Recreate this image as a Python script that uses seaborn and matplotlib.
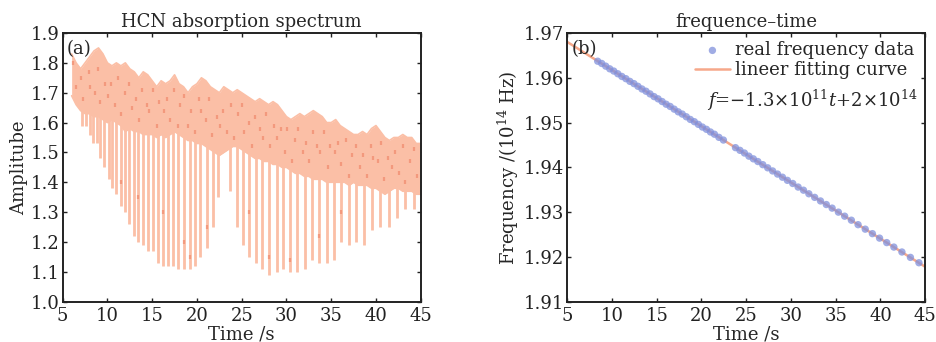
import numpy as np
import matplotlib
matplotlib.use("Agg")
import matplotlib.pyplot as plt
import seaborn as sns

sns.set_theme(style="ticks")
plt.rcParams['font.family'] = ['DejaVu Serif']
plt.rcParams['mathtext.fontset'] = 'dejavuserif'

# ---- (a) HCN absorption spectrum ----
# envelope of the fast oscillating signal
band_t = [6.0, 6.5, 7.0, 7.5, 8.0, 8.5, 9.0, 9.5, 10.0, 10.5, 11.0, 11.5, 12.0, 12.5,
          13.0, 13.5, 14.0, 14.5, 15.0, 15.5, 16.0, 16.5, 17.0, 17.5, 18.0, 18.5, 19.0,
          19.5, 20.0, 20.5, 21.0, 21.5, 22.0, 22.5, 23.0, 23.5, 24.0, 24.5, 25.0, 25.5,
          26.0, 26.5, 27.0, 27.5, 28.0, 28.5, 29.0, 29.5, 30.0, 30.5, 31.0, 31.5, 32.0,
          32.5, 33.0, 33.5, 34.0, 34.5, 35.0, 35.5, 36.0, 36.5, 37.0, 37.5, 38.0, 38.5,
          39.0, 39.5, 40.0, 40.5, 41.0, 41.5, 42.0, 42.5, 43.0, 43.5, 44.0, 44.5, 45.0]
band_upper = [1.83, 1.80, 1.78, 1.80, 1.82, 1.84, 1.85, 1.83, 1.80, 1.79, 1.80, 1.79, 1.80,
              1.78, 1.77, 1.75, 1.77, 1.76, 1.74, 1.72, 1.74, 1.73, 1.74, 1.76, 1.73, 1.72,
              1.70, 1.72, 1.73, 1.75, 1.74, 1.72, 1.71, 1.70, 1.72, 1.71, 1.70, 1.71, 1.70,
              1.69, 1.68, 1.67, 1.68, 1.67, 1.66, 1.67, 1.66, 1.64, 1.62, 1.61, 1.62, 1.63,
              1.62, 1.63, 1.64, 1.63, 1.62, 1.60, 1.60, 1.61, 1.59, 1.58, 1.57, 1.56, 1.56,
              1.57, 1.56, 1.58, 1.59, 1.57, 1.55, 1.54, 1.55, 1.55, 1.56, 1.55, 1.55, 1.53,
              1.53]
band_lower = [1.69, 1.66, 1.64, 1.63, 1.63, 1.62, 1.62, 1.61, 1.60, 1.61, 1.60, 1.59, 1.57,
              1.58, 1.57, 1.57, 1.56, 1.56, 1.56, 1.55, 1.56, 1.55, 1.56, 1.57, 1.56, 1.55,
              1.54, 1.54, 1.53, 1.53, 1.52, 1.51, 1.50, 1.49, 1.50, 1.51, 1.52, 1.52, 1.51,
              1.50, 1.49, 1.48, 1.48, 1.47, 1.47, 1.46, 1.46, 1.45, 1.45, 1.44, 1.43, 1.43,
              1.42, 1.42, 1.41, 1.41, 1.41, 1.40, 1.40, 1.40, 1.40, 1.40, 1.39, 1.40, 1.39,
              1.39, 1.39, 1.38, 1.38, 1.37, 1.36, 1.37, 1.38, 1.38, 1.37, 1.37, 1.37, 1.36,
              1.36]

# absorption lines: time and bottom of each dip
dip_t = [7.2, 7.6, 8.0, 8.4, 8.8, 9.15, 9.6, 10.15, 10.55, 11.0, 11.5, 12.0, 12.45, 12.95,
         13.45, 14.0, 14.5, 15.1, 15.65, 16.2, 16.8, 17.35, 17.9, 18.55, 19.2, 19.8, 20.35,
         21.1, 21.75, 22.4, 23.7, 24.45, 25.15, 25.85, 26.6, 27.25, 28.1, 28.9, 29.6, 30.4,
         31.2, 32.05, 32.8, 33.6, 34.5, 35.3, 36.1, 37.0, 37.8, 38.7, 39.6, 40.5, 41.45,
         42.4, 43.3, 44.25]
dip_depth = [1.59, 1.59, 1.56, 1.53, 1.53, 1.48, 1.45, 1.41, 1.38, 1.36, 1.32, 1.30, 1.26,
             1.22, 1.20, 1.19, 1.17, 1.17, 1.13, 1.12, 1.12, 1.12, 1.11, 1.11, 1.11, 1.12,
             1.15, 1.18, 1.25, 1.35, 1.37, 1.25, 1.19, 1.15, 1.13, 1.11, 1.09, 1.10, 1.11,
             1.10, 1.10, 1.11, 1.14, 1.13, 1.13, 1.14, 1.20, 1.19, 1.20, 1.19, 1.24, 1.25,
             1.25, 1.28, 1.31, 1.31]

# darker sample marks visible inside the trace
speck_t = [6.2, 6.5, 7.0, 7.3, 7.9, 8.1, 8.6, 9.0, 9.2, 9.7, 10.1, 10.4, 10.9, 11.2, 11.5,
           12.0, 12.4, 12.7, 13.2, 13.5, 13.9, 14.4, 14.6, 15.1, 15.5, 15.8, 16.3, 16.7,
           17.0, 17.4, 17.9, 18.1, 18.6, 19.0, 19.3, 19.8, 20.2, 20.5, 21.0, 21.4, 21.7,
           22.2, 22.6, 22.9, 23.4, 23.8, 24.1, 24.6, 25.0, 25.3, 25.8, 26.2, 26.5, 27.0,
           27.4, 27.7, 28.2, 28.6, 28.9, 29.4, 29.8, 30.1, 30.6, 31.0, 31.3, 31.8, 32.2,
           32.5, 33.0, 33.4, 33.7, 34.2, 34.6, 34.9, 35.4, 35.8, 36.1, 36.6, 37.0, 37.3,
           37.8, 38.2, 38.5, 39.0, 39.4, 39.7, 40.2, 40.6, 40.9, 41.4, 41.8, 42.1, 42.6,
           43.0, 43.3, 43.8, 44.2, 44.6,
           11.5, 13.45, 16.2, 18.55, 19.2, 21.1, 25.85, 28.1, 30.4, 33.6, 36.1]
speck_a = [1.80, 1.72, 1.75, 1.68, 1.77, 1.72, 1.70, 1.78, 1.67, 1.73, 1.69, 1.73, 1.66,
           1.75, 1.63, 1.70, 1.73, 1.65, 1.68, 1.61, 1.71, 1.66, 1.64, 1.71, 1.59, 1.67,
           1.64, 1.68, 1.61, 1.71, 1.59, 1.66, 1.69, 1.59, 1.64, 1.57, 1.68, 1.64, 1.61,
           1.68, 1.56, 1.62, 1.59, 1.64, 1.57, 1.66, 1.55, 1.63, 1.66, 1.57, 1.60, 1.52,
           1.62, 1.58, 1.55, 1.63, 1.52, 1.59, 1.55, 1.58, 1.50, 1.58, 1.47, 1.54, 1.58,
           1.50, 1.53, 1.47, 1.57, 1.52, 1.50, 1.57, 1.45, 1.52, 1.50, 1.53, 1.46, 1.54,
           1.42, 1.49, 1.52, 1.45, 1.49, 1.42, 1.52, 1.48, 1.47, 1.53, 1.41, 1.48, 1.45,
           1.50, 1.43, 1.52, 1.40, 1.47, 1.51, 1.42,
           1.40, 1.35, 1.30, 1.20, 1.15, 1.25, 1.30, 1.15, 1.14, 1.22, 1.30]

# ---- (b) frequency vs time ----
freq_t = [8.4, 8.85, 9.3, 9.75, 10.2, 10.65, 11.1, 11.55, 12.0, 12.45, 12.9, 13.35, 13.8,
          14.25, 14.7, 15.15, 15.6, 16.05, 16.5, 16.95, 17.4, 17.85, 18.3, 18.75, 19.2,
          19.65, 20.1, 20.55, 21.0, 21.45, 21.95, 22.45, 23.8, 24.3, 24.8, 25.3, 25.8, 26.3,
          26.85, 27.4, 27.95, 28.5, 29.05, 29.6, 30.2, 30.8, 31.4, 32.0, 32.65, 33.3, 33.95,
          34.6, 35.3, 36.0, 36.75, 37.5, 38.3, 39.1, 39.9, 40.7, 41.5, 42.4, 43.35, 44.3]
freq_val = [1.9637, 1.9632, 1.9626, 1.9620, 1.9615, 1.9609, 1.9603, 1.9598, 1.9592, 1.9587,
            1.9581, 1.9575, 1.9570, 1.9564, 1.9558, 1.9553, 1.9547, 1.9541, 1.9536, 1.9530,
            1.9524, 1.9519, 1.9513, 1.9507, 1.9502, 1.9496, 1.9490, 1.9485, 1.9479, 1.9474,
            1.9467, 1.9461, 1.9444, 1.9438, 1.9432, 1.9425, 1.9419, 1.9413, 1.9406, 1.9399,
            1.9392, 1.9385, 1.9378, 1.9371, 1.9364, 1.9356, 1.9349, 1.9341, 1.9333, 1.9325,
            1.9317, 1.9309, 1.9300, 1.9291, 1.9282, 1.9272, 1.9262, 1.9252, 1.9242, 1.9232,
            1.9222, 1.9211, 1.9199, 1.9187]
fit_t = [5.0, 45.0]
fit_val = [1.9680, 1.9178]

SIGNAL = '#fbbfa6'
SPECK = '#f08a6c'
FIT = '#f6a88a'
POINT = '#8090dc'

fig = plt.figure(figsize=(9.37, 3.42), dpi=100)
ax1 = fig.add_axes([0.0669, 0.1178, 0.3821, 0.7857])
ax2 = fig.add_axes([0.6054, 0.1178, 0.3820, 0.7857])

# panel a
ax1.fill_between(band_t, band_lower, band_upper, color=SIGNAL, lw=0)
sns.lineplot(x=band_t, y=band_upper, ax=ax1, color=SIGNAL, lw=1.2)
sns.lineplot(x=band_t, y=band_lower, ax=ax1, color=SIGNAL, lw=1.2)
dip_top = np.interp(dip_t, band_t, band_lower) + 0.03
ax1.vlines(dip_t, dip_depth, dip_top, color=SIGNAL, lw=2.0)
sns.scatterplot(x=speck_t, y=speck_a, ax=ax1, marker='|', s=12, linewidth=1.6,
                color=SPECK, alpha=0.7, zorder=3)
ax1.set_xlim(5, 45)
ax1.set_ylim(1.0, 1.9)
ax1.set_xticks(range(5, 46, 5))
ax1.set_yticks(np.round(np.arange(1.0, 1.91, 0.1), 1))
ax1.set_title('HCN absorption spectrum', fontsize=13, pad=4)
ax1.set_xlabel('Time /s', fontsize=13, labelpad=0)
ax1.set_ylabel('Amplitube', fontsize=13, labelpad=2)
ax1.text(0.012, 0.975, '(a)', transform=ax1.transAxes, fontsize=13, va='top', ha='left')

# panel b
sns.lineplot(x=fit_t, y=fit_val, ax=ax2, color=FIT, lw=1.8, label='lineer fitting curve', zorder=2)
sns.scatterplot(x=freq_t, y=freq_val, ax=ax2, color=POINT, s=28, alpha=0.75,
                edgecolor='none', label='real frequency data', zorder=3)
ax2.set_xlim(5, 45)
ax2.set_ylim(1.91, 1.97)
ax2.set_xticks(range(5, 46, 5))
ax2.set_yticks(np.round(np.arange(1.91, 1.971, 0.01), 2))
ax2.set_title('frequence\u2013time', fontsize=13, pad=4)
ax2.set_xlabel('Time /s', fontsize=13, labelpad=0)
ax2.set_ylabel('Frequency /(10$^{14}$ Hz)', fontsize=13, labelpad=2)
ax2.text(0.012, 0.975, '(b)', transform=ax2.transAxes, fontsize=13, va='top', ha='left')
handles, labels = ax2.get_legend_handles_labels()
ax2.legend(handles[::-1], labels[::-1], loc='upper right', frameon=False, fontsize=13,
           handlelength=1.9, handletextpad=0.3, borderaxespad=0.2, labelspacing=0.1,
           bbox_to_anchor=(1.0, 1.01))
ax2.text(0.98, 0.75, '$f$=\u22121.3\u00d710$^{11}$$t$+2\u00d710$^{14}$', transform=ax2.transAxes,
         fontsize=13, ha='right', va='center')

for ax in (ax1, ax2):
    ax.tick_params(direction='in', length=3, width=1, labelsize=13, pad=2,
                   top=True, right=True, colors='#222222')
    ax.tick_params(axis='x', pad=4)
    for sp in ax.spines.values():
        sp.set_linewidth(1.4)
        sp.set_color('#222222')

fig.savefig('out.png', dpi=100)
